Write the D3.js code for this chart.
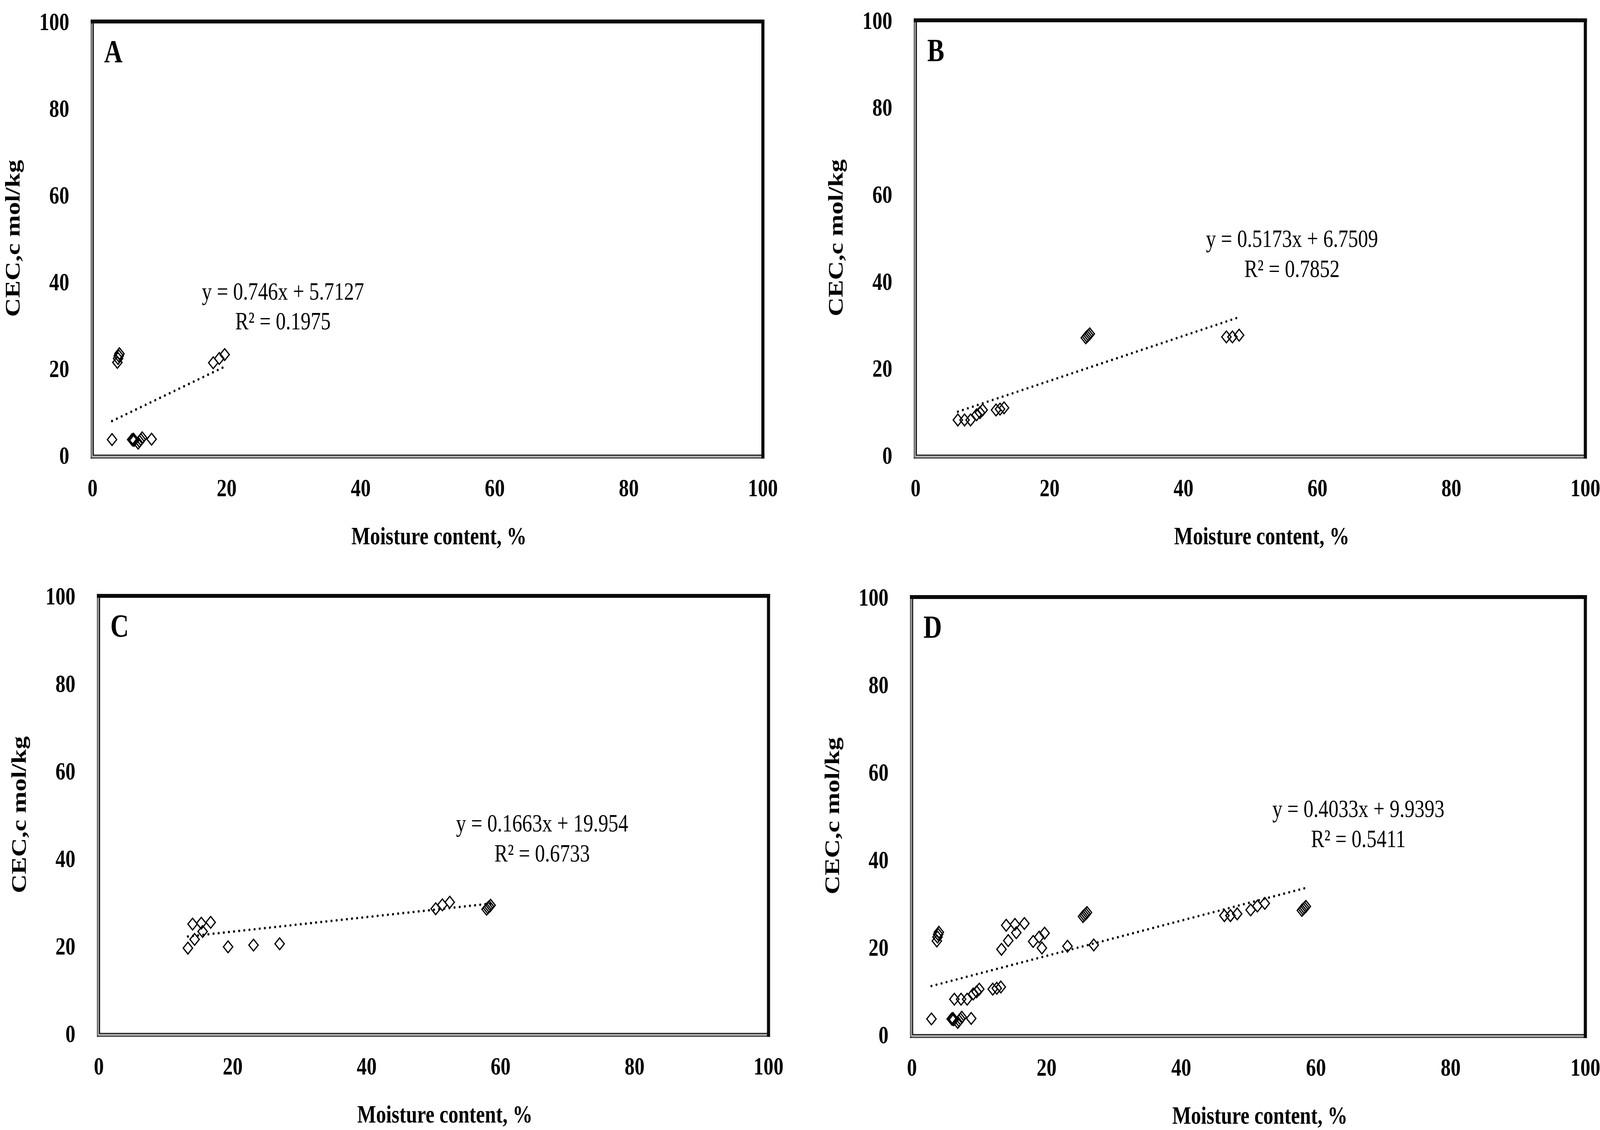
<!DOCTYPE html>
<html>
<head>
<meta charset="utf-8">
<script src="https://cdn.jsdelivr.net/npm/d3@7"></script>
<style>
  html, body { margin: 0; padding: 0; background: #ffffff; overflow: hidden; width: 100%; height: 100%; }
  #chart { width: 100vw; height: 100vh; }
  svg { display: block; width: 100vw; height: 100vh; }
</style>
</head>
<body>
<div id="chart"></div>
<script>
// ---------------- DATA ----------------
const panelNames = ["A", "B", "C", "D"];
const xTicks = [0, 20, 40, 60, 80, 100];
const yTicks = [0, 20, 40, 60, 80, 100];
const xTitle = "Moisture content, %";
const yTitle = "CEC,c mol/kg";

// Panel A
const moistureA = [2.9, 5.9, 6.0, 6.1, 6.2, 6.8, 7.0, 7.2, 7.4, 8.8, 3.7, 3.8, 3.9, 4.0, 18.0, 18.9, 19.7];
const cecA      = [3.6, 3.6, 3.5, 3.7, 3.4, 2.8, 3.2, 3.6, 4.0, 3.7, 21.4, 22.3, 22.9, 23.4, 21.3, 22.3, 23.2];

// Panel B
const moistureB = [6.3, 7.3, 8.2, 9.1, 9.6, 10.0, 12.0, 12.6, 13.2, 25.4, 25.6, 25.8, 26.0, 46.4, 47.3, 48.3];
const cecB      = [8.1, 8.1, 8.1, 9.3, 9.8, 10.4, 10.4, 10.6, 10.9, 27.0, 27.3, 27.6, 27.9, 27.2, 27.2, 27.6];

// Panel C
const moistureC = [13.3, 14.3, 14.0, 15.3, 15.5, 16.7, 19.3, 23.1, 27.0, 50.3, 51.3, 52.4, 57.9, 58.1, 58.3, 58.5];
const cecC      = [19.5, 21.5, 25.0, 25.2, 23.3, 25.4, 19.8, 20.2, 20.5, 28.5, 29.4, 30.0, 28.4, 28.7, 29.0, 29.3];

// Panel D (all soils pooled)
const moistureD = [2.9, 5.9, 6.0, 6.1, 6.2, 6.8, 7.0, 7.2, 7.4, 8.8, 3.7, 3.8, 3.9, 4.0, 18.0, 18.9, 19.7,
                   6.3, 7.3, 8.2, 9.1, 9.6, 10.0, 12.0, 12.6, 13.2, 25.4, 25.6, 25.8, 26.0, 46.4, 47.3, 48.3,
                   13.3, 14.3, 14.0, 15.3, 15.5, 16.7, 19.3, 23.1, 27.0, 50.3, 51.3, 52.4, 57.9, 58.1, 58.3, 58.5];
const cecD      = [3.6, 3.6, 3.5, 3.7, 3.4, 2.8, 3.2, 3.6, 4.0, 3.7, 21.4, 22.3, 22.9, 23.4, 21.3, 22.3, 23.2,
                   8.1, 8.1, 8.1, 9.3, 9.8, 10.4, 10.4, 10.6, 10.9, 27.0, 27.3, 27.6, 27.9, 27.2, 27.2, 27.6,
                   19.5, 21.5, 25.0, 25.2, 23.3, 25.4, 19.8, 20.2, 20.5, 28.5, 29.4, 30.0, 28.4, 28.7, 29.0, 29.3];

// Linear trendlines (as printed on the chart)
const slopes     = [0.746, 0.5173, 0.1663, 0.4033];
const intercepts = [5.7127, 6.7509, 19.954, 9.9393];
const eqLabels   = ["y = 0.746x + 5.7127", "y = 0.5173x + 6.7509", "y = 0.1663x + 19.954", "y = 0.4033x + 9.9393"];
const r2Labels   = ["R\u00B2 = 0.1975", "R\u00B2 = 0.7852", "R\u00B2 = 0.6733", "R\u00B2 = 0.5411"];

const moistureSets = [moistureA, moistureB, moistureC, moistureD];
const cecSets      = [cecA, cecB, cecC, cecD];

// ---------------- LAYOUT ----------------
const W = 5132, H = 2892;
const plots = [
  { x0: 297,  x1: 2447, y0: 55,   y1: 1165 },
  { x0: 2937, x1: 5085, y0: 52,   y1: 1165 },
  { x0: 317,  x1: 2465, y0: 1525, y1: 2645 },
  { x0: 2925, x1: 5085, y0: 1528, y1: 2648 }
];
// equation label anchor (in data units of each panel)
const eqPos = [[28.4, 35.9], [56.2, 47.9], [66.2, 46.2], [66.3, 49.7]];

const FONT = "'Liberation Serif', 'Times New Roman', Times, serif";

const svg = d3.select("#chart").append("svg")
  .attr("viewBox", `0 0 ${W} ${H}`)
  .attr("preserveAspectRatio", "none")
  .style("background", "#ffffff");

plots.forEach((p, i) => {
  const x = d3.scaleLinear().domain([0, 100]).range([p.x0, p.x1]);
  const y = d3.scaleLinear().domain([0, 100]).range([p.y1, p.y0]);
  const g = svg.append("g").attr("class", "panel panel-" + panelNames[i]);

  g.append("rect")
    .attr("x", p.x0).attr("y", p.y0)
    .attr("width", p.x1 - p.x0).attr("height", p.y1 - p.y0)
    .attr("fill", "#ffffff").attr("stroke", "none");

  // frame (Excel-style shadowed border)
  const fr = g.append("g").attr("class", "frame").attr("fill", "none");
  fr.append("line").attr("x1", p.x0 - 4).attr("x2", p.x0 - 4)
    .attr("y1", p.y0 - 5).attr("y2", p.y1 + 9)
    .attr("stroke", "#6e6e6e").attr("stroke-width", 5);
  fr.append("line").attr("x1", p.x0 + 2).attr("x2", p.x0 + 2)
    .attr("y1", p.y0).attr("y2", p.y1)
    .attr("stroke", "#111").attr("stroke-width", 4);
  fr.append("line").attr("x1", p.x0).attr("x2", p.x1)
    .attr("y1", p.y1).attr("y2", p.y1)
    .attr("stroke", "#111").attr("stroke-width", 3);
  fr.append("line").attr("x1", p.x0 - 2).attr("x2", p.x1)
    .attr("y1", p.y1 + 3.5).attr("y2", p.y1 + 3.5)
    .attr("stroke", "#b5b5b5").attr("stroke-width", 3);
  fr.append("line").attr("x1", p.x0 - 6).attr("x2", p.x1 + 5)
    .attr("y1", p.y1 + 7).attr("y2", p.y1 + 7)
    .attr("stroke", "#333").attr("stroke-width", 3);
  fr.append("line").attr("x1", p.x0 - 6).attr("x2", p.x1 + 5)
    .attr("y1", p.y0).attr("y2", p.y0)
    .attr("stroke", "#0a0a0a").attr("stroke-width", 10);
  fr.append("line").attr("x1", p.x1).attr("x2", p.x1)
    .attr("y1", p.y0 - 5).attr("y2", p.y1 + 8.5)
    .attr("stroke", "#0a0a0a").attr("stroke-width", 10);

  // y tick labels
  g.append("g").selectAll("text").data(yTicks).join("text")
    .attr("x", p.x0 - 75)
    .attr("y", d => y(d))
    .attr("dy", "0.34em")
    .attr("text-anchor", "end")
    .attr("font-family", FONT).attr("font-weight", "bold")
    .attr("font-size", 64).attr("fill", "#000")
    .text(d => d);

  // x tick labels
  g.append("g").selectAll("text").data(xTicks).join("text")
    .attr("x", d => x(d))
    .attr("y", p.y1 + 105)
    .attr("text-anchor", "middle")
    .attr("font-family", FONT).attr("font-weight", "bold")
    .attr("font-size", 64).attr("fill", "#000")
    .text(d => d);

  // axis titles
  g.append("text")
    .attr("x", (p.x0 + p.x1) / 2 + 36)
    .attr("y", p.y1 + 228)
    .attr("text-anchor", "middle")
    .attr("font-family", FONT).attr("font-weight", "bold")
    .attr("font-size", 64).attr("fill", "#000")
    .text(xTitle);

  g.append("text")
    .attr("transform", `translate(${p.x0 - 234},${(p.y0 + p.y1) / 2}) rotate(-90)`)
    .attr("text-anchor", "middle")
    .attr("font-family", FONT).attr("font-weight", "bold")
    .attr("font-size", 67).attr("fill", "#000")
    .text(yTitle);

  // panel letter
  g.append("text")
    .attr("x", p.x0 + 37)
    .attr("y", p.y0 + 104)
    .attr("font-family", FONT).attr("font-weight", "bold")
    .attr("font-size", 82).attr("fill", "#000")
    .text(panelNames[i]);

  // dotted linear trendline over the data's x-range
  const ext = d3.extent(moistureSets[i]);
  const trend = ext.map(v => [v, slopes[i] * v + intercepts[i]]);
  g.append("path")
    .datum(trend)
    .attr("d", d3.line().x(d => x(d[0])).y(d => y(d[1])))
    .attr("fill", "none")
    .attr("stroke", "#000")
    .attr("stroke-width", 6.5)
    .attr("stroke-linecap", "round")
    .attr("stroke-dasharray", "0.01 16.5");

  // hollow diamond markers
  const pts = moistureSets[i].map((m, k) => ({ m, c: cecSets[i][k] }));
  const h = 15;
  g.append("g").selectAll("path").data(pts).join("path")
    .attr("transform", d => `translate(${x(d.m)},${y(d.c)})`)
    .attr("d", `M0,${-h}L${h},0L0,${h}L${-h},0Z`)
    .attr("fill", "none")
    .attr("stroke", "#000")
    .attr("stroke-width", 3.6);

  // equation + R² label
  const ex = x(eqPos[i][0]), ey = y(eqPos[i][1]);
  g.append("text")
    .attr("x", ex).attr("y", ey)
    .attr("text-anchor", "middle")
    .attr("font-family", FONT)
    .attr("font-size", 64).attr("fill", "#000")
    .text(eqLabels[i]);
  g.append("text")
    .attr("x", ex).attr("y", ey + 77)
    .attr("text-anchor", "middle")
    .attr("font-family", FONT)
    .attr("font-size", 64).attr("fill", "#000")
    .text(r2Labels[i]);
});
</script>
</body>
</html>
